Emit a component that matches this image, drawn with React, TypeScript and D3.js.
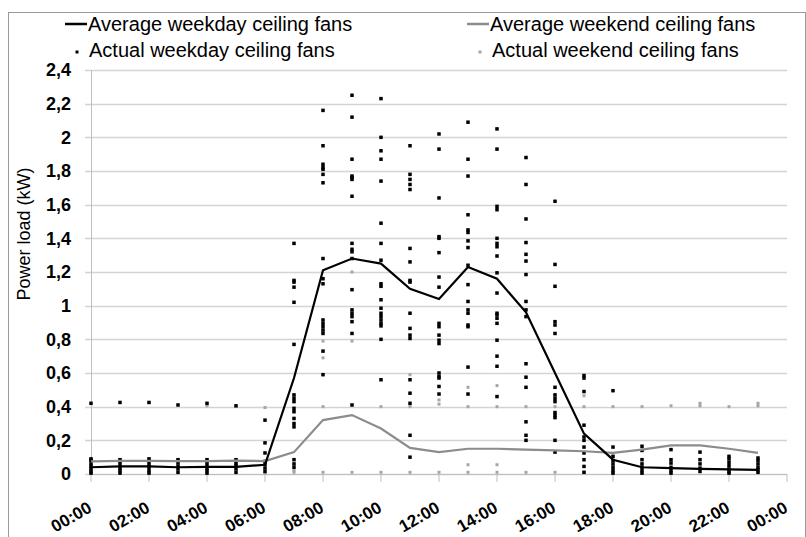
import * as d3 from "d3";
import React from "react";

// hourly profile 00:00 .. 23:00
const hours = d3.range(0, 24);

const weekdayAvg = [
  0.04, 0.045, 0.045, 0.04, 0.042, 0.042, 0.055, 0.57, 1.21, 1.28, 1.25, 1.1,
  1.04, 1.23, 1.16, 0.96, 0.6, 0.24, 0.085, 0.04, 0.035, 0.03, 0.028, 0.025,
];

const weekendAvg = [
  0.075, 0.078, 0.078, 0.076, 0.077, 0.08, 0.077, 0.13, 0.32, 0.35, 0.27,
  0.155, 0.13, 0.15, 0.15, 0.145, 0.14, 0.135, 0.125, 0.145, 0.17, 0.17, 0.15,
  0.125,
];

// measured points, one list per hour
const weekdayActual: number[][] = [
  [0.42, 0.09, 0.08, 0.06, 0.045, 0.03, 0.015, 0.005],
  [0.425, 0.085, 0.07, 0.05, 0.035, 0.02, 0.005],
  [0.425, 0.09, 0.075, 0.055, 0.04, 0.02, 0.005],
  [0.41, 0.085, 0.065, 0.045, 0.03, 0.01],
  [0.42, 0.085, 0.07, 0.05, 0.035, 0.02, 0.005],
  [0.405, 0.085, 0.065, 0.05, 0.03, 0.01],
  [0.32, 0.185, 0.125, 0.075, 0.055, 0.035, 0.015],
  [1.37, 1.15, 1.14, 1.11, 1.02, 0.77, 0.47, 0.45, 0.43, 0.39, 0.37, 0.33, 0.3, 0.28, 0.085, 0.06, 0.04],
  [2.16, 1.95, 1.84, 1.82, 1.81, 1.78, 1.73, 1.28, 1.16, 1.13, 0.915, 0.895, 0.875, 0.855, 0.835, 0.73, 0.59],
  [2.25, 2.12, 1.87, 1.77, 1.76, 1.75, 1.65, 1.37, 1.335, 1.32, 1.28, 1.095, 0.975, 0.955, 0.935, 0.905, 0.835, 0.41],
  [2.23, 2.0, 1.92, 1.87, 1.74, 1.49, 1.37, 1.27, 1.13, 1.115, 1.035, 0.985, 0.955, 0.935, 0.915, 0.895, 0.88, 0.8, 0.56],
  [1.95, 1.78, 1.75, 1.72, 1.69, 1.34, 1.26, 1.15, 1.14, 0.955, 0.865, 0.825, 0.805, 0.56, 0.48, 0.42, 0.23, 0.1],
  [2.02, 1.93, 1.64, 1.41, 1.4, 1.315, 1.17, 1.11, 0.895, 0.875, 0.825, 0.795, 0.775, 0.6, 0.58, 0.57, 0.52, 0.475],
  [2.09, 1.87, 1.77, 1.54, 1.45, 1.435, 1.385, 1.345, 1.24, 1.125, 1.025, 0.975, 0.955, 0.885, 0.875, 0.635, 0.475],
  [2.05, 1.93, 1.59, 1.57, 1.4, 1.37, 1.35, 1.295, 1.195, 1.075, 0.955, 0.945, 0.925, 0.895, 0.795, 0.7, 0.64, 0.46],
  [1.88, 1.72, 1.515, 1.375, 1.305, 1.265, 1.185, 1.025, 0.975, 0.935, 0.655, 0.575, 0.515, 0.31, 0.23, 0.2],
  [1.62, 1.245, 1.115, 0.905, 0.885, 0.835, 0.515, 0.47, 0.45, 0.43, 0.365, 0.35, 0.335, 0.2, 0.13],
  [0.585, 0.57, 0.49, 0.29, 0.22, 0.2, 0.16, 0.125, 0.085, 0.045, 0.01],
  [0.495, 0.16, 0.105, 0.08, 0.06, 0.04, 0.02, 0.005],
  [0.165, 0.14, 0.085, 0.06, 0.04, 0.02, 0.005],
  [0.145, 0.085, 0.065, 0.04, 0.02, 0.005],
  [0.13, 0.085, 0.06, 0.035, 0.015],
  [0.105, 0.09, 0.07, 0.05, 0.03, 0.015, 0.005],
  [0.095, 0.08, 0.06, 0.04, 0.025, 0.01],
];

const weekendActual: number[][] = [
  [0.085, 0.075],
  [0.085, 0.075],
  [0.085, 0.075],
  [0.085, 0.075],
  [0.405, 0.085, 0.075],
  [0.085, 0.075],
  [0.395, 0.005],
  [0.02, 0.01],
  [0.79, 0.69, 0.4, 0.01],
  [1.2, 0.79, 0.01],
  [0.4, 0.01],
  [0.59, 0.4, 0.01],
  [0.44, 0.415, 0.01],
  [0.515, 0.4, 0.055, 0.01],
  [0.525, 0.4, 0.055, 0.01],
  [0.4, 0.01],
  [0.4, 0.01],
  [0.465, 0.4, 0.01],
  [0.4, 0.01],
  [0.4],
  [0.405],
  [0.42, 0.405],
  [0.4],
  [0.42, 0.405],
];

const xTickLabels = ["00:00", "02:00", "04:00", "06:00", "08:00", "10:00", "12:00", "14:00", "16:00", "18:00", "20:00", "22:00", "00:00"];
const yTicks = d3.range(0, 13).map((i) => i * 0.2);

const width = 806;
const height = 537;
const font = "'Liberation Sans', Arial, sans-serif";

const App: React.FC = () => {
  const x = d3.scaleLinear().domain([0, 24]).range([91, 787]);
  const y = d3.scaleLinear().domain([0, 2.4]).range([474, 70]);

  const line = d3
    .line<number>()
    .x((_, i) => x(hours[i]))
    .y((d) => y(d));

  const fmt = (v: number) => d3.format("~g")(+v.toFixed(1)).replace(".", ",");

  return (
    <svg
      width={width}
      height={height}
      style={{ position: "absolute", left: 0, top: 0, background: "#fff" }}
      fontFamily={font}
    >
      <rect x={8.5} y={12.5} width={797} height={540} fill="#fff" stroke="#9a9a9a" />

      {/* gridlines */}
      {yTicks.map((t) => (
        <line key={"g" + t} x1={85} x2={787} y1={Math.round(y(t)) + 0.5} y2={Math.round(y(t)) + 0.5} stroke="#d4d4d4" strokeWidth={1.3} />
      ))}
      <line x1={91.5} x2={91.5} y1={y(2.4)} y2={y(0)} stroke="#bfbfbf" />
      <line x1={91} x2={787} y1={y(0) + 0.5} y2={y(0) + 0.5} stroke="#bfbfbf" />
      {xTickLabels.map((lab, i) => {
        const xv = x(i * 2);
        return (
          <g key={"xt" + i}>
            <line x1={xv} x2={xv} y1={y(0)} y2={y(0) + 8} stroke="#bfbfbf" />
            <text
              transform={`translate(${xv + 2},${y(0) + 37}) rotate(-30)`}
              textAnchor="end"
              fontSize={17}
              fontWeight="bold"
              fill="#000"
            >
              {lab}
            </text>
          </g>
        );
      })}
      {yTicks.map((t) => (
        <text key={"yl" + t} x={71} y={y(t)} dy="0.35em" textAnchor="end" fontSize={18} fontWeight="bold" fill="#000">
          {fmt(t)}
        </text>
      ))}
      <text transform={`translate(30,234) rotate(-90)`} textAnchor="middle" fontSize={18} fill="#000">
        Power load (kW)
      </text>

      {/* actual points */}
      {weekendActual.map((vals, h) =>
        vals.map((v, j) => (
          <rect key={`we${h}-${j}`} x={x(hours[h]) - 1.5} y={y(v) - 1.5} width={3} height={3} fill="#a6a6a6" />
        )),
      )}
      {weekdayActual.map((vals, h) =>
        vals.map((v, j) => (
          <rect key={`wd${h}-${j}`} x={x(hours[h]) - 1.75} y={y(v) - 1.75} width={3.5} height={3.5} fill="#000" />
        )),
      )}

      {/* averages */}
      <path d={line(weekendAvg) ?? ""} fill="none" stroke="#8c8c8c" strokeWidth={2.2} />
      <path d={line(weekdayAvg) ?? ""} fill="none" stroke="#000" strokeWidth={2.2} />

      {/* legend */}
      <g fontSize={20} fill="#000">
        <line x1={65} x2={87} y1={24} y2={24} stroke="#000" strokeWidth={2.5} />
        <text x={88} y={31}>Average weekday ceiling fans</text>
        <line x1={467} x2={489} y1={24} y2={24} stroke="#8c8c8c" strokeWidth={2.5} />
        <text x={490} y={31}>Average weekend ceiling fans</text>
        <rect x={75.5} y={50.5} width={3} height={3} fill="#000" />
        <text x={89} y={57}>Actual weekday ceiling fans</text>
        <rect x={478.5} y={50.5} width={3} height={3} fill="#a6a6a6" />
        <text x={492} y={57}>Actual weekend ceiling fans</text>
      </g>
    </svg>
  );
};

export default App;
